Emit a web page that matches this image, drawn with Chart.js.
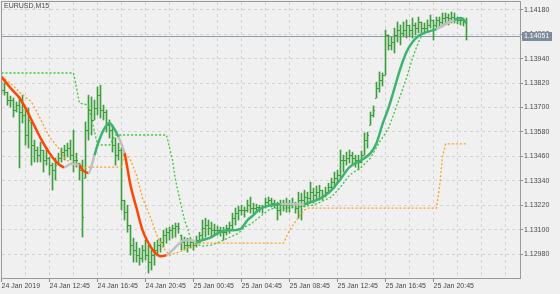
<!DOCTYPE html>
<html>
<head>
<meta charset="utf-8">
<title>EURUSD,M15</title>
<script src="https://cdn.jsdelivr.net/npm/chart.js@4.4.1/dist/chart.umd.min.js"></script>
<style>
    html, body { margin: 0; padding: 0; background: #f0f0f0; }
    #wrap { position: relative; width: 560px; height: 294px; }
</style>
</head>
<body>
<div id="wrap"><canvas id="myChart" width="560" height="294"></canvas></div>
<script>
// Symbol and last price
const symbolName = 'EURUSD,M15';
const lastPrice = 1.14051;

// Time axis: bar index -> label (one label every 16 bars = 4 hours)
const timeLabelIdx = [0, 16, 32, 48, 64, 80, 96, 112, 128, 144];
const timeLabels = ['24 Jan 2019', '24 Jan 12:45', '24 Jan 16:45', '24 Jan 20:45', '25 Jan 00:45',
    '25 Jan 04:45', '25 Jan 08:45', '25 Jan 12:45', '25 Jan 16:45', '25 Jan 20:45'];
const timeGridIdx = [0, 8, 16, 24, 32, 40, 48, 56, 64, 72, 80, 88, 96, 104, 112, 120, 128, 136, 144, 152, 160, 168];

// Price axis ticks
const priceTicks = [1.12980, 1.13100, 1.13220, 1.13340, 1.13460, 1.13580, 1.13700, 1.13820, 1.13940, 1.14060, 1.14180];

// M15 bars
const firstOpen = 1.13810;
const highs = [
    1.13825, 1.13820, 1.13776, 1.13756, 1.13747, 1.13727, 1.13752, 1.13761, 1.13698, 1.13698,
    1.13629, 1.13540, 1.13506, 1.13530, 1.13491, 1.13501, 1.13457, 1.13427, 1.13452, 1.13476,
    1.13501, 1.13515, 1.13525, 1.13540, 1.13589, 1.13476, 1.13427, 1.13442, 1.13629, 1.13761,
    1.13752, 1.13737, 1.13801, 1.13810, 1.13712, 1.13688, 1.13639, 1.13614, 1.13550, 1.13525,
    1.13501, 1.13245, 1.13220, 1.13122, 1.13058, 1.13038, 1.13009, 1.13023, 1.13048, 1.13023,
    1.12999, 1.13038, 1.13048, 1.13058, 1.13097, 1.13107, 1.13112, 1.13122, 1.13132, 1.13132,
    1.13073, 1.13063, 1.13058, 1.13058, 1.13048, 1.13068, 1.13087, 1.13147, 1.13156, 1.13147,
    1.13137, 1.13127, 1.13117, 1.13112, 1.13112, 1.13122, 1.13137, 1.13181, 1.13206, 1.13215,
    1.13220, 1.13211, 1.13245, 1.13260, 1.13230, 1.13225, 1.13220, 1.13220, 1.13255, 1.13260,
    1.13255, 1.13245, 1.13235, 1.13245, 1.13245, 1.13255, 1.13245, 1.13255, 1.13235, 1.13284,
    1.13279, 1.13294, 1.13284, 1.13333, 1.13304, 1.13314, 1.13318, 1.13294, 1.13309, 1.13328,
    1.13353, 1.13383, 1.13393, 1.13491, 1.13466, 1.13481, 1.13491, 1.13481, 1.13466, 1.13466,
    1.13486, 1.13575, 1.13579, 1.13678, 1.13708, 1.13825, 1.13875, 1.13870, 1.14081, 1.14057,
    1.14047, 1.14091, 1.14121, 1.14106, 1.14121, 1.14131, 1.14106, 1.14140, 1.14116, 1.14145,
    1.14121, 1.14116, 1.14131, 1.14155, 1.14131, 1.14145, 1.14145, 1.14165, 1.14165, 1.14160,
    1.14170, 1.14165, 1.14145, 1.14140, 1.14140, 1.14140
];
const lows = [
    1.13766, 1.13761, 1.13712, 1.13703, 1.13653, 1.13678, 1.13403, 1.13624, 1.13515, 1.13501,
    1.13417, 1.13432, 1.13432, 1.13432, 1.13383, 1.13417, 1.13368, 1.13294, 1.13343, 1.13427,
    1.13432, 1.13442, 1.13457, 1.13442, 1.13383, 1.13407, 1.13343, 1.13063, 1.13353, 1.13540,
    1.13565, 1.13639, 1.13663, 1.13648, 1.13639, 1.13579, 1.13550, 1.13481, 1.13417, 1.13442,
    1.13196, 1.13147, 1.13087, 1.12974, 1.12940, 1.12940, 1.12925, 1.12940, 1.12950, 1.12886,
    1.12901, 1.12925, 1.12974, 1.12989, 1.13014, 1.13033, 1.13048, 1.13058, 1.13063, 1.13082,
    1.12999, 1.12999, 1.12989, 1.13009, 1.12999, 1.13014, 1.13033, 1.13048, 1.13063, 1.13073,
    1.13063, 1.13073, 1.13073, 1.13068, 1.13048, 1.13073, 1.13082, 1.13097, 1.13122, 1.13147,
    1.13171, 1.13161, 1.13186, 1.13181, 1.13176, 1.13186, 1.13186, 1.13181, 1.13206, 1.13220,
    1.13211, 1.13206, 1.13147, 1.13171, 1.13191, 1.13186, 1.13186, 1.13206, 1.13181, 1.13156,
    1.13147, 1.13211, 1.13220, 1.13235, 1.13230, 1.13245, 1.13245, 1.13245, 1.13260, 1.13279,
    1.13294, 1.13304, 1.13328, 1.13353, 1.13383, 1.13417, 1.13427, 1.13422, 1.13407, 1.13393,
    1.13427, 1.13466, 1.13501, 1.13614, 1.13653, 1.13747, 1.13776, 1.13806, 1.13860, 1.13983,
    1.13983, 1.13968, 1.14022, 1.14008, 1.14047, 1.14042, 1.14047, 1.14042, 1.14057, 1.14067,
    1.14057, 1.14067, 1.14072, 1.14091, 1.14032, 1.14091, 1.14091, 1.14096, 1.14106, 1.14106,
    1.14116, 1.14116, 1.14111, 1.14106, 1.14101, 1.14032
];
const closes = [
    1.13786, 1.13776, 1.13737, 1.13737, 1.13688, 1.13712, 1.13678, 1.13663, 1.13565, 1.13639,
    1.13515, 1.13491, 1.13466, 1.13491, 1.13442, 1.13452, 1.13417, 1.13393, 1.13417, 1.13452,
    1.13481, 1.13491, 1.13501, 1.13466, 1.13442, 1.13442, 1.13393, 1.13162, 1.13589, 1.13688,
    1.13639, 1.13698, 1.13761, 1.13688, 1.13678, 1.13614, 1.13589, 1.13515, 1.13466, 1.13491,
    1.13245, 1.13186, 1.13122, 1.13023, 1.12999, 1.12974, 1.12960, 1.12999, 1.12974, 1.12940,
    1.12974, 1.12999, 1.13023, 1.13038, 1.13073, 1.13087, 1.13097, 1.13107, 1.13117, 1.13107,
    1.13038, 1.13023, 1.13023, 1.13038, 1.13023, 1.13048, 1.13073, 1.13107, 1.13122, 1.13107,
    1.13097, 1.13097, 1.13097, 1.13087, 1.13087, 1.13107, 1.13122, 1.13156, 1.13181, 1.13196,
    1.13196, 1.13196, 1.13220, 1.13206, 1.13206, 1.13211, 1.13206, 1.13211, 1.13235, 1.13245,
    1.13230, 1.13220, 1.13196, 1.13220, 1.13220, 1.13220, 1.13220, 1.13230, 1.13206, 1.13245,
    1.13245, 1.13260, 1.13255, 1.13284, 1.13269, 1.13284, 1.13294, 1.13269, 1.13284, 1.13309,
    1.13333, 1.13353, 1.13368, 1.13442, 1.13442, 1.13452, 1.13466, 1.13452, 1.13442, 1.13432,
    1.13466, 1.13540, 1.13565, 1.13663, 1.13688, 1.13796, 1.13835, 1.13860, 1.14057, 1.14008,
    1.14022, 1.14057, 1.14081, 1.14067, 1.14081, 1.14106, 1.14081, 1.14106, 1.14091, 1.14121,
    1.14091, 1.14091, 1.14106, 1.14131, 1.14106, 1.14131, 1.14121, 1.14140, 1.14145, 1.14140,
    1.14145, 1.14140, 1.14131, 1.14131, 1.14121, 1.14051
];

// Smoothed line (bar index, value, trend of the following segment)
const maIdx = [0, 3, 6, 8, 10, 13, 16, 18, 20, 21, 23, 26, 27, 29, 31, 32, 34, 36, 37, 39,
    41, 43, 45, 47, 49, 51, 53, 55, 57, 59, 61, 63, 65, 67, 70, 72, 75, 77, 80, 82,
    84, 86, 90, 93, 101, 102, 105, 108, 110, 113, 116, 120, 123, 125, 127, 129, 131, 133, 135, 137,
    139, 142, 145, 148, 151, 153, 155];
const maVal = [1.13851, 1.13796, 1.13747, 1.13698, 1.13639, 1.13550, 1.13476, 1.13437, 1.13412, 1.13407,
    1.13422, 1.13417, 1.13393, 1.13378, 1.13466, 1.13515, 1.13589, 1.13624, 1.13609, 1.13555,
    1.13476, 1.13318, 1.13206, 1.13097, 1.13033, 1.12989, 1.12969, 1.12974, 1.12999, 1.13028,
    1.13048, 1.13048, 1.13038, 1.13048, 1.13063, 1.13082, 1.13097, 1.13097, 1.13107, 1.13147,
    1.13171, 1.13201, 1.13220, 1.13225, 1.13225, 1.13230, 1.13245, 1.13269, 1.13294, 1.13348,
    1.13407, 1.13442, 1.13476, 1.13525, 1.13619, 1.13698, 1.13796, 1.13894, 1.13973, 1.14022,
    1.14052, 1.14072, 1.14086, 1.14111, 1.14131, 1.14140, 1.14116];
const maState = ['dn', 'dn', 'dn', 'dn', 'dn', 'dn', 'dn', 'dn', 'dn', 'flat',
    'flat', 'dn', 'dn', 'flat', 'up', 'up', 'up', 'up', 'up', 'flat',
    'dn', 'dn', 'dn', 'dn', 'dn', 'dn', 'dn', 'flat', 'flat', 'flat',
    'flat', 'flat', 'up', 'up', 'up', 'up', 'up', 'up', 'up', 'up',
    'up', 'up', 'up', 'flat', 'up', 'up', 'up', 'up', 'up', 'up',
    'up', 'up', 'up', 'up', 'up', 'up', 'up', 'up', 'up', 'up',
    'up', 'up', 'flat', 'flat', 'up', 'up', 'up'];

// Green dotted band
const bandUpIdx = [0, 24, 26, 29, 32, 36, 38, 55, 57, 58, 60, 61, 62, 63, 65, 67, 70, 74, 79, 81,
    83, 86, 89, 91, 95, 104, 110, 113, 116, 120, 123, 126, 129, 131, 133, 135, 137, 139, 140];
const bandUpVal = [1.13870, 1.13870, 1.13722, 1.13712, 1.13516, 1.13516, 1.13565, 1.13565, 1.13442, 1.13343,
    1.13211, 1.13147, 1.13107, 1.13058, 1.13028, 1.13019, 1.13024, 1.13048, 1.13082, 1.13112,
    1.13127, 1.13161, 1.13196, 1.13206, 1.13206, 1.13220, 1.13260, 1.13309, 1.13368, 1.13407,
    1.13452, 1.13530, 1.13599, 1.13678, 1.13761, 1.13845, 1.13943, 1.14022, 1.14052];

// Orange dotted band
const bandDnIdx = [0, 3, 6, 10, 12, 14, 16, 19, 21, 23, 25, 27, 29, 40, 41, 43, 45, 47, 50, 52,
    54, 56, 60, 63, 66, 94, 96, 99, 101, 102, 145, 146, 147, 148, 155];
const bandDnVal = [1.13851, 1.13820, 1.13776, 1.13727, 1.13673, 1.13614, 1.13555, 1.13501, 1.13452, 1.13427,
    1.13427, 1.13402, 1.13407, 1.13407, 1.13476, 1.13442, 1.13368, 1.13255, 1.13147, 1.13063,
    1.13009, 1.12974, 1.12994, 1.13019, 1.13033, 1.13033, 1.13097, 1.13161, 1.13196, 1.13206,
    1.13206, 1.13309, 1.13457, 1.13521, 1.13521];

const barColor = '#3d9e3d';
const maColors = {dn: '#ff4500', up: '#3cb371', flat: '#c0c0c0'};
const labelFont = {family: 'Liberation Sans', size: 7};

function clearAxisPadding(scale) {
    scale.paddingLeft = 0;
    scale.paddingRight = 0;
    scale.paddingTop = 0;
    scale.paddingBottom = 0;
}

// extra drawing: price line, open/close ticks, frame, caption, price box
const terminalPlugin = {
    id: 'terminalPlugin',
    beforeDatasetsDraw(chart) {
        const {ctx, chartArea, scales} = chart;
        let y = Math.round(scales.y.getPixelForValue(lastPrice)) + 0.5;
        ctx.save();
        ctx.strokeStyle = '#8e9bab';
        ctx.lineWidth = 1;
        ctx.beginPath();
        ctx.moveTo(chartArea.left, y);
        ctx.lineTo(chartArea.right, y);
        ctx.stroke();
        ctx.restore();
    },
    afterDatasetDraw(chart, args) {
        if (args.index !== 0) return;
        const {ctx, chartArea, scales} = chart;
        ctx.save();
        ctx.beginPath();
        ctx.rect(chartArea.left, chartArea.top, chartArea.right - chartArea.left, chartArea.bottom - chartArea.top);
        ctx.clip();
        ctx.fillStyle = barColor;
        for (let i = 0; i < closes.length; i++) {
            let x = Math.round(scales.x.getPixelForValue(i) - 0.5);
            let open = i > 0 ? closes[i - 1] : firstOpen;
            open = Math.min(highs[i], Math.max(lows[i], open));
            let yo = Math.round(scales.y.getPixelForValue(open));
            let yc = Math.round(scales.y.getPixelForValue(closes[i]));
            ctx.fillRect(x - 1, yo, 1, 1);
            ctx.fillRect(x + 1, yc, 1, 1);
        }
        ctx.restore();
    },
    afterDraw(chart) {
        const {ctx, chartArea, scales} = chart;
        ctx.save();
        //Frame
        ctx.strokeStyle = '#9a9a9a';
        ctx.lineWidth = 1;
        ctx.strokeRect(chartArea.left - 0.5, chartArea.top - 0.5,
            chartArea.right - chartArea.left + 1, chartArea.bottom - chartArea.top + 1);
        //Caption
        ctx.font = '7px "Liberation Sans"';
        ctx.fillStyle = '#4a4a4a';
        ctx.textBaseline = 'top';
        ctx.textAlign = 'left';
        ctx.fillText(symbolName, 4, 3);
        //Last price box
        let y = Math.round(scales.y.getPixelForValue(lastPrice));
        ctx.fillStyle = '#7d8b9c';
        ctx.fillRect(chartArea.right + 2, y - 4, 30, 9);
        ctx.fillStyle = '#ffffff';
        ctx.textBaseline = 'middle';
        ctx.fillText(lastPrice.toFixed(5), chartArea.right + 4, y + 0.5);
        ctx.restore();
    }
};

function loadChart() {
    let ctx = document.getElementById('myChart');
    new Chart(ctx, {
        type: 'line',
        data: {
            datasets: [
                {
                    type: 'bar',
                    data: highs.map((h, i) => ({x: i, y: [lows[i], h]})),
                    backgroundColor: barColor,
                    borderWidth: 0,
                    barThickness: 1,
                    grouped: false,
                    order: 3
                },
                {
                    data: bandDnIdx.map((v, k) => ({x: v, y: bandDnVal[k]})),
                    borderColor: '#ffa020',
                    borderWidth: 1.3,
                    borderDash: [2, 2],
                    pointRadius: 0,
                    tension: 0,
                    order: 2
                },
                {
                    data: bandUpIdx.map((v, k) => ({x: v, y: bandUpVal[k]})),
                    borderColor: '#3cc83c',
                    borderWidth: 1.3,
                    borderDash: [2, 2],
                    pointRadius: 0,
                    tension: 0,
                    order: 2
                },
                {
                    data: maIdx.map((v, k) => ({x: v, y: maVal[k]})),
                    borderColor: maColors.up,
                    borderWidth: 2.5,
                    pointRadius: 0,
                    cubicInterpolationMode: 'monotone',
                    segment: {
                        borderColor: c => maColors[maState[c.p0DataIndex]]
                    },
                    order: 1
                }
            ]
        },
        options: {
            responsive: false,
            animation: false,
            devicePixelRatio: 1,
            events: [],
            layout: {padding: {left: 2, top: 2, right: 0, bottom: 0}},
            plugins: {
                legend: {display: false},
                tooltip: {enabled: false}
            },
            scales: {
                x: {
                    type: 'linear',
                    min: 1 / 6,
                    max: 1 / 6 + 518 / 3,
                    offset: false,
                    afterBuildTicks: scale => {
                        scale.ticks = timeGridIdx.map(v => ({value: v}));
                    },
                    afterFit: scale => {
                        scale.height = 16;
                        clearAxisPadding(scale);
                    },
                    ticks: {
                        autoSkip: false,
                        maxRotation: 0,
                        align: 'start',
                        padding: 0,
                        color: '#4a4a4a',
                        font: labelFont,
                        callback: value => {
                            let k = timeLabelIdx.indexOf(value);
                            return k >= 0 ? timeLabels[k] : '';
                        }
                    },
                    grid: {
                        offset: false,
                        color: '#d3d3d3',
                        lineWidth: 1,
                        tickLength: 4,
                        tickBorderDash: [],
                        tickColor: c => (c.tick && timeLabelIdx.includes(c.tick.value)) ? '#8a8a8a' : 'rgba(0,0,0,0)'
                    },
                    border: {display: false, dash: [3, 3]}
                },
                y: {
                    type: 'linear',
                    position: 'right',
                    min: 1.12862,
                    max: 1.14219,
                    afterBuildTicks: scale => {
                        scale.ticks = priceTicks.map(v => ({value: v}));
                    },
                    afterFit: scale => {
                        scale.width = 40;
                        clearAxisPadding(scale);
                    },
                    ticks: {
                        padding: 1,
                        color: '#4a4a4a',
                        font: labelFont,
                        callback: value => value.toFixed(5)
                    },
                    grid: {
                        color: '#d3d3d3',
                        lineWidth: 1,
                        tickLength: 3,
                        tickBorderDash: [],
                        tickColor: '#8a8a8a'
                    },
                    border: {display: false, dash: [3, 3]}
                }
            }
        },
        plugins: [terminalPlugin]
    });
}

loadChart();
</script>
</body>
</html>
